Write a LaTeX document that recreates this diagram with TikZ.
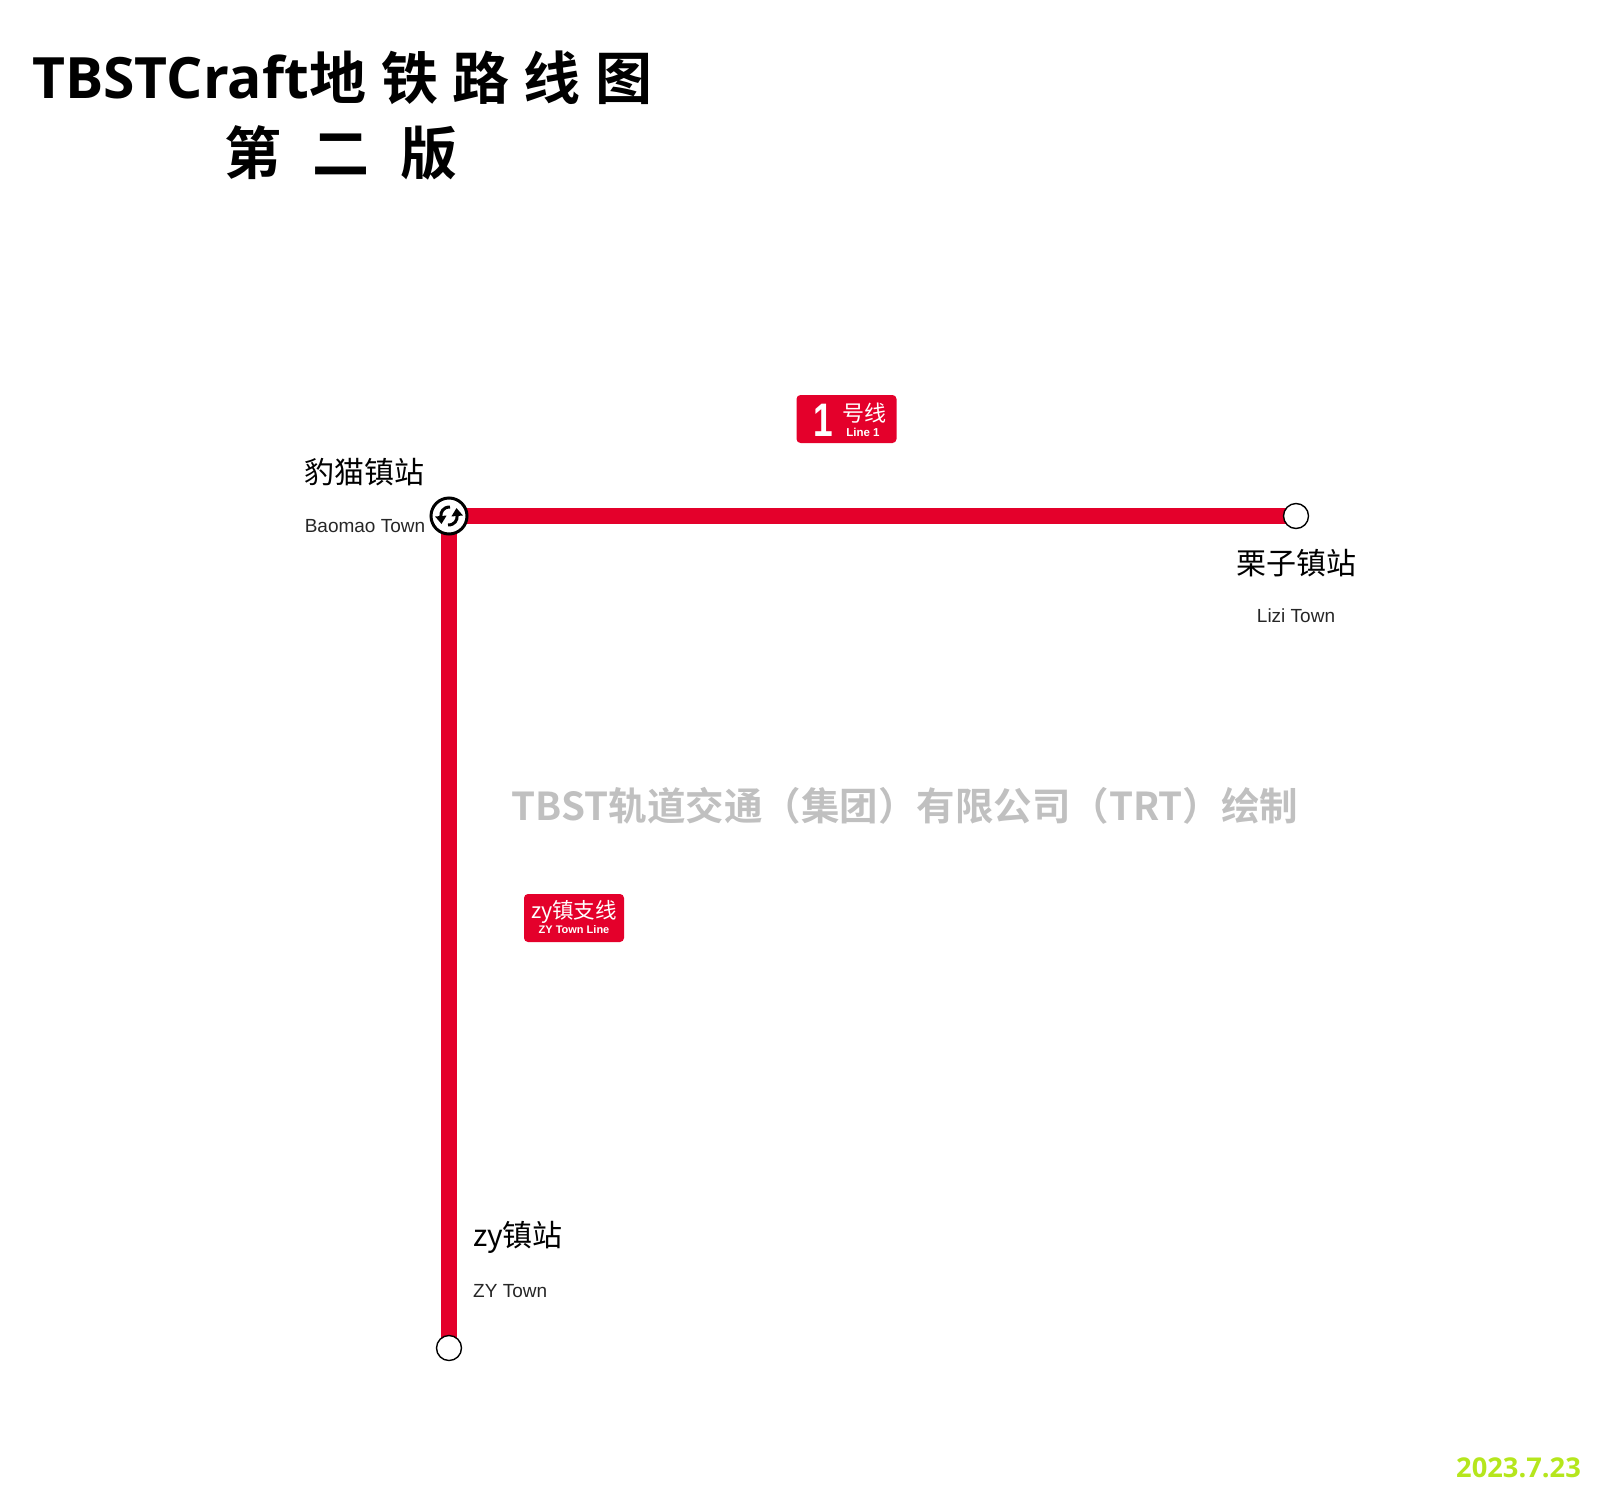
\documentclass[tikz,border=0pt]{standalone}
\usepackage{fontspec}
\setmainfont{Liberation Sans}
\newfontfamily\cjkreg{Noto Sans CJK SC}
\newfontfamily\titlefont{Open Sans}[BoldFont={* Bold}]
\newfontfamily\cjkbold{Noto Sans CJK SC}[UprightFont={* Bold}]
\usetikzlibrary{arrows.meta,backgrounds}
\definecolor{linered}{HTML}{E4002B}
\definecolor{wm}{HTML}{C0C0C0}
\definecolor{datec}{HTML}{B5E61D}
\tikzset{
 trackline/.style={draw=linered,line width=16pt},
 endstn/.style={circle,draw=black,line width=1.4pt,fill=white,minimum size=25pt,inner sep=0pt},
 xferstn/.style={circle,draw=black,line width=3pt,fill=white,minimum size=36pt,inner sep=0pt},
 cnname/.style={font=\fontsize{30}{30}\selectfont\cjkreg,text=black,inner sep=0pt},
 enname/.style={font=\fontsize{19}{20}\selectfont,text=black!85,inner sep=0pt},
 linebadge/.style={fill=linered,rounded corners=4pt,inner sep=0pt,minimum width=100pt,minimum height=48pt},
 badgetxt/.style={text=white,inner sep=0pt},
 titletxt/.style={font=\fontsize{57}{60}\selectfont\bfseries\titlefont,inner sep=0pt,anchor=base west},
 titlecjk/.style={font=\fontsize{57}{57}\selectfont\cjkbold,inner sep=0pt,anchor=base},
 swaparrow/.style={line width=3pt,-{Triangle[length=8pt,width=11pt]}},
}
\begin{document}
\begin{tikzpicture}[x=1pt,y=-1pt]
\useasboundingbox (0,0) rectangle (1597,1493);
% title
\node[titletxt] (t0) at (32,99) {TBSTCraft};
\node[titlecjk] (t1) at (338,100) {地};
\node[titlecjk] (t2) at (410,100) {铁};
\node[titlecjk] (t3) at (481,100) {路};
\node[titlecjk] (t4) at (552,100) {线};
\node[titlecjk] (t5) at (624,100) {图};
\node[titlecjk] (t6) at (253,174) {第};
\node[titlecjk] (t7) at (341,174) {二};
\node[titlecjk] (t8) at (429,174) {版};
% stations
\node[xferstn] (bm) at (449,516) {};
\node[endstn] (lz) at (1296,516) {};
\node[endstn] (zy) at (449,1348) {};
\begin{scope}[on background layer]
\draw[trackline] (bm.center) -- (lz.center);
\draw[trackline] (bm.center) -- (zy.center);
\end{scope}
% interchange arrows
\draw[swaparrow] (450,507) .. controls (443,507) and (440.5,512) .. (441.5,524);
\draw[swaparrow] (448,525) .. controls (455,525) and (457.5,520) .. (456.5,508);
% labels
\node[cnname] (n1) at (364,472) {豹猫镇站};
\node[enname] (e1) at (365,526) {Baomao Town};
\node[cnname] (n2) at (1296,563) {栗子镇站};
\node[enname] (e2) at (1296,616) {Lizi Town};
\node[cnname,anchor=west] (n3) at (473,1237) {zy镇站};
\node[enname,anchor=west] (e3) at (473,1291) {ZY Town};
% line badges
\node[linebadge] (b1) at (846.5,419) {};
\node[badgetxt,font=\fontsize{47}{47}\selectfont\bfseries] (b1a) at (823,420) {\scalebox{0.75}[1]{1}};
\node[badgetxt,font=\fontsize{22}{22}\selectfont\cjkreg] (b1b) at (864,413) {号线};
\node[badgetxt,font=\fontsize{11.5}{12}\selectfont\bfseries] (b1c) at (863,432) {Line 1};
\node[linebadge] (b2) at (574,918) {};
\node[badgetxt,font=\fontsize{21.5}{22}\selectfont\cjkreg] (b2a) at (574,912) {zy镇支线};
\node[badgetxt,font=\fontsize{11}{11}\selectfont\bfseries] (b2b) at (574,930) {ZY Town Line};
% watermark
\node[font=\fontsize{38.5}{38}\selectfont\cjkbold,text=wm,inner sep=0pt] (wm) at (905,806) {TBST轨道交通（集团）有限公司（TRT）绘制};
% date
\node[font=\fontsize{27.3}{27}\selectfont\bfseries\titlefont,text=datec,inner sep=0pt,anchor=east] (dt) at (1581,1468) {2023.7.23};
\end{tikzpicture}
\end{document}
